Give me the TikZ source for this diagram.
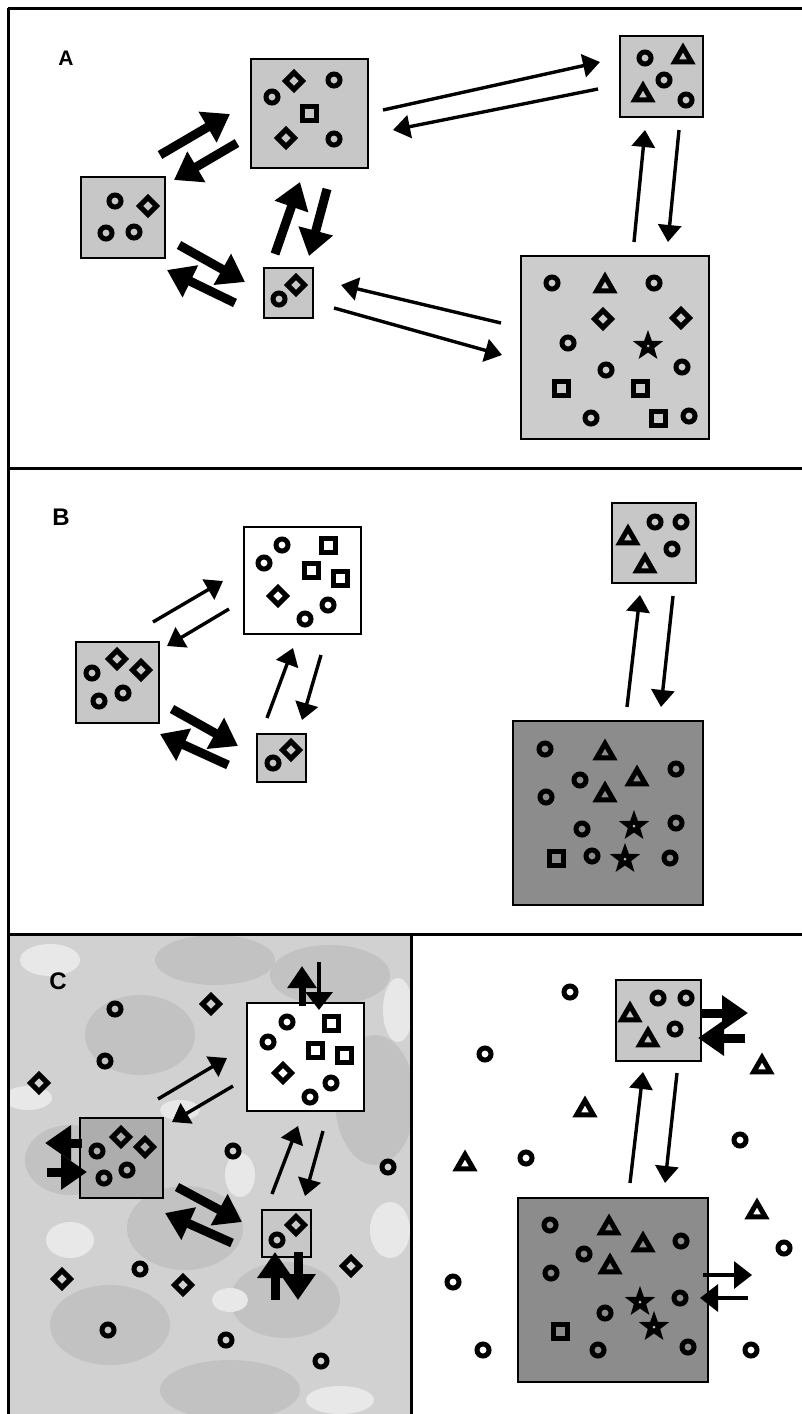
\documentclass[tikz,border=0pt]{standalone}
\usepackage{fontspec}
\setmainfont{Liberation Sans}
\usetikzlibrary{arrows.meta}
\definecolor{lbox}{gray}{0.78}
\definecolor{lboxA}{gray}{0.80}
\definecolor{dbox}{gray}{0.55}
\definecolor{mbox}{gray}{0.68}
\definecolor{cbg}{gray}{0.82}
\definecolor{cblot}{gray}{0.76}
\definecolor{cwhite}{gray}{0.91}
\newcommand\sRing[2]{\draw[sym] (#1,#2) circle (6pt);}
\newcommand\sDia[2]{\draw[sym] (#1,#2) +(0,-8.5) -- +(8.5,0) -- +(0,8.5) -- +(-8.5,0) -- cycle;}
\newcommand\sSq[2]{\draw[sym] (#1,#2) +(-7,-7) rectangle +(7,7);}
\newcommand\sTri[2]{\draw[sym,line width=5pt] (#1,#2) +(90:9.5pt) -- +(210:9.5pt) -- +(330:9.5pt) -- cycle;}
\newcommand\sStar[2]{\fill[black] (#1,#2) +(90:16pt) -- +(126:6.5pt) -- +(162:16pt) -- +(198:6.5pt) -- +(234:16pt) -- +(270:6.5pt) -- +(306:16pt) -- +(342:6.5pt) -- +(18:16pt) -- +(54:6.5pt) -- cycle; \fill[gray!50] (#1,#2) circle (1.5pt);}
\begin{document}
\begin{tikzpicture}[x=1pt,y=-1pt,
  sym/.style={draw=black,line width=5pt,line join=miter},
  box/.style={draw=black,line width=2.6pt,inner sep=0pt,outer sep=0pt},
  frame/.style={line width=3pt},
  thickarrow/.style={line width=9pt,-{Triangle[width=34pt,length=26pt]}},
  thinarrow/.style={line width=3.4pt,-{Triangle[width=23pt,length=17pt]}},
  midarrow/.style={line width=7pt,-{Triangle[width=28pt,length=22pt]}},
  thinbig/.style={line width=3.4pt,-{Triangle[width=27pt,length=18pt]}},
  lab/.style={font=\bfseries\fontsize{24}{24}\selectfont,inner sep=0pt}]
\useasboundingbox (0,0) rectangle (802,1414);
\fill[white] (0,0) rectangle (802,1414);

% ---------- panel C left background ----------
\fill[cbg] (8,934) rectangle (411.5,1414);
\begin{scope}
\clip (8,934) rectangle (411.5,1414);
\fill[cblot] (140,1035) ellipse (55pt and 40pt);
\fill[cblot] (215,960) ellipse (60pt and 25pt);
\fill[cblot] (185,1228) ellipse (58pt and 42pt);
\fill[cblot] (110,1325) ellipse (60pt and 40pt);
\fill[cblot] (285,1300) ellipse (55pt and 38pt);
\fill[cblot] (375,1100) ellipse (40pt and 65pt);
\fill[cblot] (70,1160) ellipse (45pt and 35pt);
\fill[cblot] (330,975) ellipse (60pt and 30pt);
\fill[cblot] (230,1390) ellipse (70pt and 30pt);
\fill[cwhite] (28,1098) ellipse (24pt and 12pt);
\fill[cwhite] (70,1240) ellipse (24pt and 18pt);
\fill[cwhite] (50,960) ellipse (30pt and 16pt);
\fill[cwhite] (240,1175) ellipse (15pt and 22pt);
\fill[cwhite] (398,1010) ellipse (15pt and 32pt);
\fill[cwhite] (390,1230) ellipse (20pt and 28pt);
\fill[cwhite] (180,1110) ellipse (20pt and 10pt);
\fill[cwhite] (230,1300) ellipse (18pt and 12pt);
\fill[cwhite] (340,1400) ellipse (34pt and 14pt);
\end{scope}

% ---------- frames ----------
\draw[frame] (8,8) -- (802,8);
\draw[frame] (8,8) -- (8,1414);
\draw[frame] (8,468) -- (802,468);
\draw[frame] (8,934) -- (802,934);
\draw[frame] (411.5,934) -- (411.5,1414);

% ---------- labels ----------
\node[lab,font=\bfseries\fontsize{21}{21}\selectfont] (labA) at (66,58) {A};
\node[lab] (labB) at (61,517) {B};
\node[lab] (labC) at (58,981) {C};

% ================= PANEL A =================
\node[box,fill=lbox,minimum width=117pt,minimum height=109pt] (a1) at (309.5,113.5) {};
\node[box,fill=lbox,minimum width=84pt,minimum height=81pt] (a2) at (123,217.5) {};
\node[box,fill=lbox,minimum width=49pt,minimum height=50pt] (a3) at (288.5,293) {};
\node[box,fill=lbox,minimum width=83pt,minimum height=81pt] (a4) at (661.5,76.5) {};
\node[box,fill=lboxA,minimum width=188pt,minimum height=183pt] (a5) at (615,347.5) {};

\sDia{294}{81} \sRing{334}{80} \sRing{272}{97} \sSq{309}{113} \sDia{286}{138} \sRing{334}{139}
\sRing{115}{201} \sDia{148}{206} \sRing{106}{233} \sRing{134}{232}
\sRing{279}{299} \sDia{296}{285}
\sRing{645}{58} \sTri{683}{57} \sTri{643}{95} \sRing{664}{80} \sRing{686}{100}
\sRing{552}{283} \sTri{605}{286} \sRing{654}{283} \sDia{603}{319} \sDia{681}{318}
\sRing{568}{343} \sStar{648}{346} \sRing{606}{370} \sRing{682}{367}
\sSq{561}{388} \sSq{640}{388} \sRing{591}{418} \sSq{658}{418} \sRing{689}{416}

\coordinate (a21s) at (160,155); \coordinate (a21e) at (230,114);
\coordinate (a12s) at (237,143); \coordinate (a12e) at (174,180);
\coordinate (a23s) at (179,245); \coordinate (a23e) at (245,282);
\coordinate (a32s) at (235,303); \coordinate (a32e) at (167,270);
\coordinate (a31s) at (275,254); \coordinate (a31e) at (300,182);
\coordinate (a13s) at (327,189); \coordinate (a13e) at (309,256);
\coordinate (a14s) at (383,110); \coordinate (a14e) at (600,62);
\coordinate (a41s) at (598,89);  \coordinate (a41e) at (393,130);
\coordinate (a54s) at (634,242); \coordinate (a54e) at (645,130);
\coordinate (a45s) at (679,130); \coordinate (a45e) at (668,242);
\coordinate (a53s) at (501,323); \coordinate (a53e) at (341,285);
\coordinate (a35s) at (334,308); \coordinate (a35e) at (502,355);
\draw[thickarrow] (a21s) -- (a21e);
\draw[thickarrow] (a12s) -- (a12e);
\draw[thickarrow] (a23s) -- (a23e);
\draw[thickarrow] (a32s) -- (a32e);
\draw[thickarrow] (a31s) -- (a31e);
\draw[thickarrow] (a13s) -- (a13e);
\draw[thinarrow] (a14s) -- (a14e);
\draw[thinarrow] (a41s) -- (a41e);
\draw[thinarrow] (a54s) -- (a54e);
\draw[thinarrow] (a45s) -- (a45e);
\draw[thinarrow] (a53s) -- (a53e);
\draw[thinarrow] (a35s) -- (a35e);

% ================= PANEL B =================
\node[box,fill=white,minimum width=117pt,minimum height=107pt] (b1) at (302.5,580.5) {};
\node[box,fill=lbox,minimum width=83pt,minimum height=81pt] (b2) at (117.5,682.5) {};
\node[box,fill=lbox,minimum width=49pt,minimum height=48pt] (b3) at (281.5,758) {};
\node[box,fill=lbox,minimum width=84pt,minimum height=80pt] (b4) at (654,543) {};
\node[box,fill=dbox,minimum width=190pt,minimum height=184pt] (b5) at (608,813) {};

\sRing{282}{545} \sRing{264}{563} \sSq{328}{545} \sSq{311}{570} \sSq{340}{578}
\sDia{278}{596} \sRing{328}{605} \sRing{305}{619}
\sRing{92}{673} \sDia{117}{659} \sDia{141}{670} \sRing{99}{701} \sRing{123}{693}
\sRing{273}{763} \sDia{291}{750}
\sTri{628}{538} \sRing{655}{522} \sRing{681}{522} \sTri{645}{566} \sRing{672}{549}
\sRing{545}{749} \sTri{605}{753} \sRing{676}{769} \sRing{580}{780} \sTri{637}{779}
\sTri{605}{795} \sRing{546}{797} \sRing{582}{829} \sStar{634}{826} \sRing{676}{823}
\sSq{556}{858} \sRing{592}{856} \sStar{625}{859} \sRing{670}{858}

\coordinate (b21s) at (153,622); \coordinate (b21e) at (223,581);
\coordinate (b12s) at (229,609); \coordinate (b12e) at (167,646);
\coordinate (b23s) at (172,709); \coordinate (b23e) at (238,746);
\coordinate (b32s) at (228,765); \coordinate (b32e) at (160,734);
\coordinate (b31s) at (267,718); \coordinate (b31e) at (293,648);
\coordinate (b13s) at (321,655); \coordinate (b13e) at (302,720);
\coordinate (b54s) at (627,707); \coordinate (b54e) at (640,595);
\coordinate (b45s) at (673,596); \coordinate (b45e) at (661,707);
\draw[thinarrow] (b21s) -- (b21e);
\draw[thinarrow] (b12s) -- (b12e);
\draw[thickarrow] (b23s) -- (b23e);
\draw[thickarrow] (b32s) -- (b32e);
\draw[thinarrow] (b31s) -- (b31e);
\draw[thinarrow] (b13s) -- (b13e);
\draw[thinarrow] (b54s) -- (b54e);
\draw[thinarrow] (b45s) -- (b45e);

% ================= PANEL C left =================
\node[box,fill=white,minimum width=117pt,minimum height=108pt] (c1) at (305.5,1057) {};
\node[box,fill=mbox,minimum width=83pt,minimum height=80pt] (c2) at (121.5,1158) {};
\node[box,fill=lbox,minimum width=49pt,minimum height=47pt] (c3) at (286.5,1233.5) {};

\sRing{287}{1022} \sSq{331}{1023} \sRing{268}{1042} \sSq{315}{1050} \sSq{344}{1055}
\sDia{283}{1073} \sRing{331}{1083} \sRing{310}{1097}
\sDia{121}{1137} \sDia{145}{1147} \sRing{97}{1151} \sRing{127}{1170} \sRing{104}{1178}
\sRing{277}{1240} \sDia{296}{1225}
\sRing{115}{1009} \sDia{211}{1004} \sRing{105}{1061} \sDia{39}{1083} \sRing{233}{1151}
\sRing{388}{1167} \sDia{62}{1279} \sRing{140}{1269} \sDia{183}{1285} \sDia{351}{1266}
\sRing{108}{1330} \sRing{226}{1340} \sRing{321}{1361}

\coordinate (c21s) at (158,1099); \coordinate (c21e) at (227,1058);
\coordinate (c12s) at (233,1086); \coordinate (c12e) at (172,1122);
\coordinate (c23s) at (177,1187); \coordinate (c23e) at (242,1222);
\coordinate (c32s) at (232,1243); \coordinate (c32e) at (165,1213);
\coordinate (c31s) at (272,1194); \coordinate (c31e) at (298,1126);
\coordinate (c13s) at (323,1131); \coordinate (c13e) at (305,1196);
\coordinate (c1us) at (302,1006); \coordinate (c1ue) at (302,966);
\coordinate (c1ds) at (319,962);  \coordinate (c1de) at (319,1010);
\coordinate (c2ls) at (82,1143);  \coordinate (c2le) at (45,1143);
\coordinate (c2rs) at (47,1172);  \coordinate (c2re) at (87,1172);
\coordinate (c3us) at (275,1300); \coordinate (c3ue) at (275,1252);
\coordinate (c3ds) at (298,1252); \coordinate (c3de) at (298,1300);
\draw[thinarrow] (c21s) -- (c21e);
\draw[thinarrow] (c12s) -- (c12e);
\draw[thickarrow] (c23s) -- (c23e);
\draw[thickarrow] (c32s) -- (c32e);
\draw[thinarrow] (c31s) -- (c31e);
\draw[thinarrow] (c13s) -- (c13e);
\draw[midarrow] (c1us) -- (c1ue);
\draw[thinbig] (c1ds) -- (c1de);
\draw[thickarrow] (c2ls) -- (c2le);
\draw[thickarrow] (c2rs) -- (c2re);
\draw[thickarrow] (c3us) -- (c3ue);
\draw[thickarrow] (c3ds) -- (c3de);

% ================= PANEL C right =================
\node[box,fill=lbox,minimum width=85pt,minimum height=81pt] (c4) at (658.5,1020.5) {};
\node[box,fill=dbox,minimum width=190pt,minimum height=184pt] (c5) at (613,1290) {};

\sTri{630}{1015} \sRing{658}{998} \sRing{686}{998} \sTri{648}{1040} \sRing{675}{1029}
\sRing{550}{1225} \sTri{609}{1228} \sRing{681}{1241} \sRing{584}{1254} \sTri{643}{1245}
\sTri{610}{1267} \sRing{551}{1273} \sRing{605}{1313} \sStar{640}{1302} \sRing{680}{1298}
\sSq{560}{1331} \sRing{598}{1350} \sStar{654}{1327} \sRing{688}{1347}
\sRing{570}{992} \sRing{485}{1054} \sTri{585}{1110} \sTri{762}{1067} \sRing{740}{1140}
\sTri{465}{1164} \sRing{526}{1158} \sTri{757}{1212} \sRing{784}{1248} \sRing{453}{1282}
\sRing{483}{1350} \sRing{751}{1350}

\coordinate (c54s) at (630,1183); \coordinate (c54e) at (643,1072);
\coordinate (c45s) at (677,1073); \coordinate (c45e) at (665,1183);
\coordinate (c4rs) at (700,1013); \coordinate (c4re) at (748,1013);
\coordinate (c4ls) at (745,1038); \coordinate (c4le) at (698,1038);
\coordinate (c5rs) at (703,1275); \coordinate (c5re) at (752,1275);
\coordinate (c5ls) at (748,1298); \coordinate (c5le) at (700,1298);
\draw[thinarrow] (c54s) -- (c54e);
\draw[thinarrow] (c45s) -- (c45e);
\draw[thickarrow] (c4rs) -- (c4re);
\draw[thickarrow] (c4ls) -- (c4le);
\draw[thinbig] (c5rs) -- (c5re);
\draw[thinbig] (c5ls) -- (c5le);
\end{tikzpicture}
\end{document}
